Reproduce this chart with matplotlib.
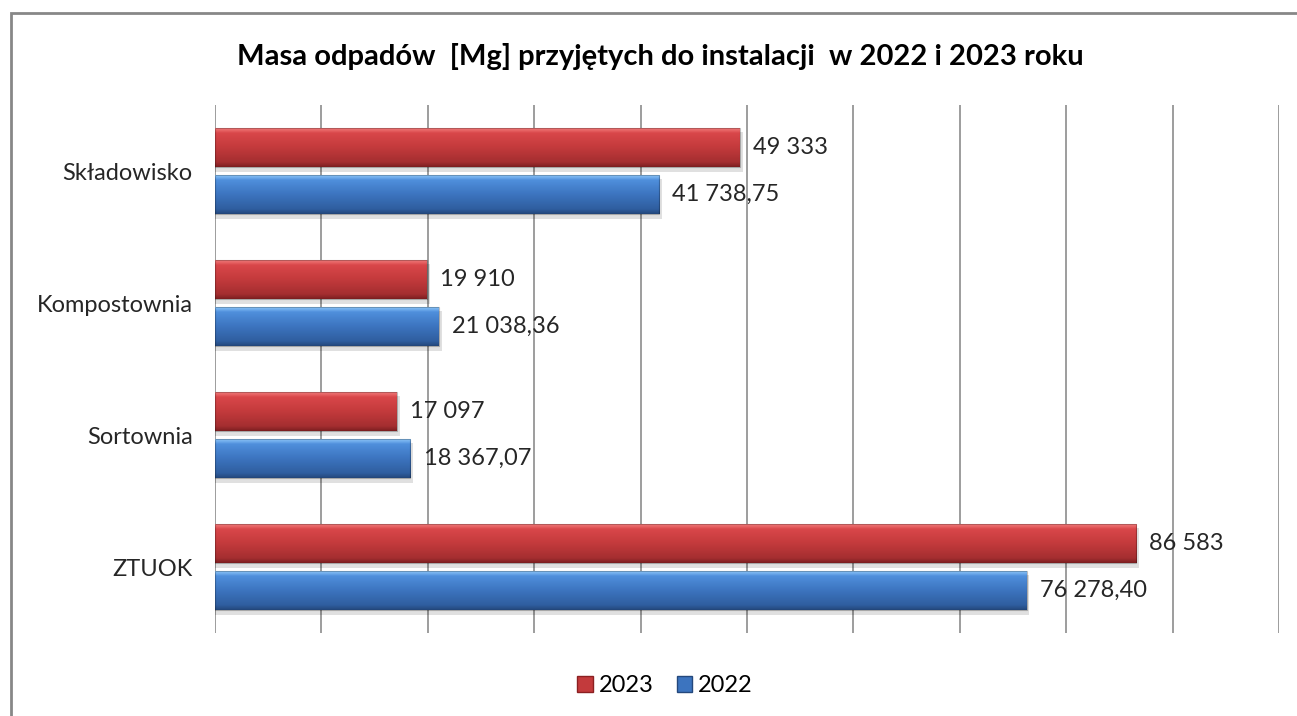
import matplotlib
matplotlib.use("Agg")
import matplotlib.pyplot as plt
import numpy as np
from matplotlib.colors import LinearSegmentedColormap
from matplotlib.patches import Rectangle, Patch

categories = ["Składowisko", "Kompostownia", "Sortownia", "ZTUOK"]
values_2023 = [49333, 19910, 17097, 86583]
values_2022 = [41738.75, 21038.36, 18367.07, 76278.40]
series_names = ["2023", "2022"]
title = "Masa odpadów  [Mg] przyjętych do instalacji  w 2022 i 2023 roku"

plt.rcParams['font.family'] = ['Lato', 'DejaVu Sans']

W, H = 1297, 716
fig = plt.figure(figsize=(W / 100, H / 100), dpi=100)
ax = fig.add_axes([215 / W, 1 - 633 / H, (1279 - 215) / W, (633 - 105) / H])

red_cmap = LinearSegmentedColormap.from_list(
    "r", [(0, "#F27B7B"), (0.12, "#D9474A"), (0.5, "#C33A3C"), (0.88, "#A42E30"), (1, "#7E1F21")])
blue_cmap = LinearSegmentedColormap.from_list(
    "b", [(0, "#8CC6FA"), (0.12, "#4F8FDC"), (0.5, "#3C74BF"), (0.88, "#2F5E9F"), (1, "#24487C")])

bar_h = 0.295
offset = 0.178
grad = np.linspace(0, 1, 64).reshape(-1, 1)


def fmt(v, dec):
    s = f"{v:,.{dec}f}"
    return s.replace(",", " ").replace(".", ",")


def draw_bar(y, v, cmap, label):
    y0, y1 = y - bar_h / 2, y + bar_h / 2
    # shadow
    ax.add_patch(Rectangle((0, y0 + 0.03), v + 250, bar_h + 0.01, facecolor="#000000",
                           alpha=0.12, edgecolor="none", zorder=2))
    rect = Rectangle((0, y0), v, bar_h, facecolor="none", edgecolor="none", zorder=3)
    ax.add_patch(rect)
    im = ax.imshow(grad, cmap=cmap, aspect="auto", extent=[0, v, y1, y0],
                   zorder=3, interpolation="bilinear")
    im.set_clip_path(rect)
    ax.add_patch(Rectangle((0, y0), v, bar_h, facecolor="none", edgecolor="#00000040",
                           linewidth=0.8, zorder=4))
    ax.annotate(label, (v, y), xytext=(9.5, 0), textcoords="offset points",
                va="center", ha="left", fontsize=17, color="#262626", zorder=5)


for i, cat in enumerate(categories):
    draw_bar(i - offset, values_2023[i], red_cmap, fmt(values_2023[i], 0))
    draw_bar(i + offset, values_2022[i], blue_cmap, fmt(values_2022[i], 2))

ax.set_xlim(0, 100000)
ax.set_ylim(3.5, -0.5)
ax.set_xticks(np.arange(0, 100001, 10000))
ax.xaxis.grid(True, color="#8c8c8c", linewidth=1.2, zorder=1)
ax.set_axisbelow(True)
ax.set_xticklabels([])
ax.tick_params(axis="x", length=0)
ax.set_yticks(range(len(categories)))
ax.set_yticklabels(categories, fontsize=17, color="#262626")
ax.tick_params(axis="y", length=0, pad=16)
for s in ax.spines.values():
    s.set_visible(False)

fig.text(0.5 + 12 / W, 1 - 57 / H, title, ha="center", va="center", fontsize=21,
         fontweight="bold", color="#000000")

handles = [Patch(facecolor="#C33A3C", edgecolor="#8B2022", label=series_names[0]),
           Patch(facecolor="#3C74BF", edgecolor="#24487C", label=series_names[1])]
fig.legend(handles=handles, loc="center", bbox_to_anchor=(665 / W, 1 - 686 / H), ncol=2,
           frameon=False, fontsize=17, handlelength=0.65, handleheight=0.65,
           handletextpad=0.25, columnspacing=1.0)

fig.add_artist(Rectangle((11 / W, -0.05), 1.2, 1 - 13 / H + 0.05, transform=fig.transFigure,
                         facecolor="none", edgecolor="#878787", linewidth=2))

fig.savefig("out.png", dpi=100)
